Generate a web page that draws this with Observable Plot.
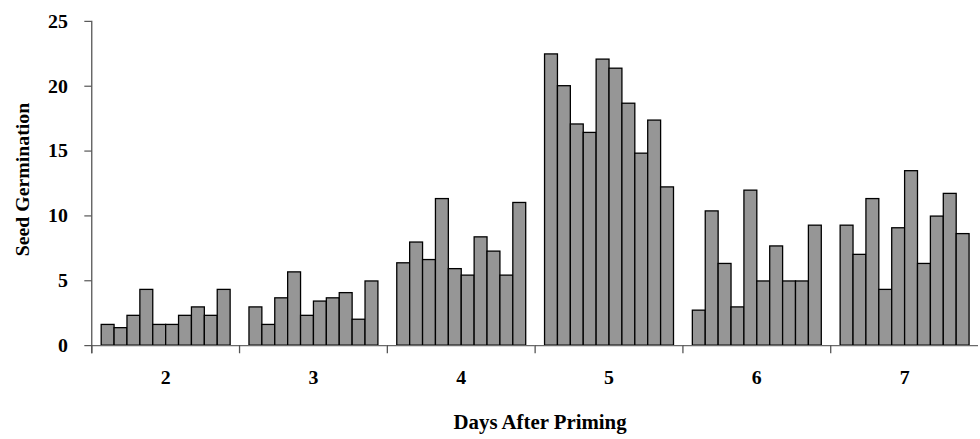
<!DOCTYPE html>
<html><head><meta charset="utf-8">
<script src="https://cdn.jsdelivr.net/npm/d3@7"></script>
<script src="https://cdn.jsdelivr.net/npm/@observablehq/plot@0.6"></script>
<style>
html,body{margin:0;padding:0;background:#fff;overflow:hidden;width:980px;height:439px}
#chart{width:980px;height:439px;overflow:hidden}
</style>
</head><body><div id="chart"></div>
<script>
const days = ["2", "3", "4", "5", "6", "7"];
const replicates = [1, 2, 3, 4, 5, 6, 7, 8, 9, 10];
const day2 = [1.6, 1.35, 2.3, 4.3, 1.6, 1.6, 2.3, 2.95, 2.3, 4.3];
const day3 = [2.95, 1.6, 3.65, 5.65, 2.3, 3.4, 3.65, 4.05, 2.0, 4.95];
const day4 = [6.35, 7.95, 6.6, 11.3, 5.9, 5.4, 8.35, 7.25, 5.4, 11.0];
const day5 = [22.45, 20.0, 17.05, 16.4, 22.05, 21.35, 18.65, 14.8, 17.35, 12.2];
const day6 = [2.7, 10.35, 6.3, 2.95, 11.95, 4.95, 7.65, 4.95, 4.95, 9.25];
const day7 = [9.25, 7.0, 11.3, 4.3, 9.05, 13.45, 6.3, 9.95, 11.7, 8.6];
const yTicks = [0, 5, 10, 15, 20, 25];
const yTitle = "Seed Germination";
const xTitle = "Days After Priming";

const series = [day2, day3, day4, day5, day6, day7];
const table = days.flatMap((d, i) => series[i].map((v, j) => ({day: d, rep: replicates[j], value: v})));

const font = "'Liberation Serif', 'Times New Roman', serif";

const chart = Plot.plot({
  width: 988,
  height: 439,
  marginLeft: 90,
  marginRight: 0,
  marginTop: 21,
  marginBottom: 91,
  style: {fontFamily: font, fontSize: "20px", fontWeight: "bold", background: "#fff", color: "#000", overflow: "visible"},
  fx: {domain: days, padding: 0},
  x: {domain: replicates, paddingInner: 0, paddingOuter: 0.73, axis: null},
  y: {domain: [0, 25]},
  marks: [
    Plot.barY(table, {fx: "day", x: "rep", y: "value", fill: "#969696", stroke: "#000", strokeWidth: 1.3}),
    Plot.ruleY([0], {stroke: "#6a6a6a", strokeWidth: 1.3}),
    Plot.frame({anchor: "left", facetAnchor: "left", stroke: "#555", strokeWidth: 1.3, insetBottom: -7}),
    Plot.frame({anchor: "left", stroke: "#555", strokeWidth: 1.3, insetTop: 327, insetBottom: -7}),
    Plot.axisY({ticks: yTicks, tickSize: 7, tickPadding: 17, fontSize: 20, fontWeight: "bold",
      stroke: "#333", label: null}),
    Plot.axisFx({anchor: "bottom", tickSize: 0, tickPadding: 24, fontSize: 20, fontWeight: "bold", label: null}),
    Plot.text([yTitle], {text: d => d, frameAnchor: "left", facetAnchor: "left", rotate: -90, dx: -70, dy: -4,
      textAnchor: "middle", lineAnchor: "middle", fontSize: 20, fontWeight: "bold", letterSpacing: "1.5px"}),
    Plot.text([xTitle], {text: d => d, frameAnchor: "bottom", facet: "super", dy: 77, dx: 5,
      textAnchor: "middle", lineAnchor: "middle", fontSize: 21, fontWeight: "bold", letterSpacing: "1.2px"})
  ]
});
document.getElementById("chart").appendChild(chart);
</script>
</body></html>
